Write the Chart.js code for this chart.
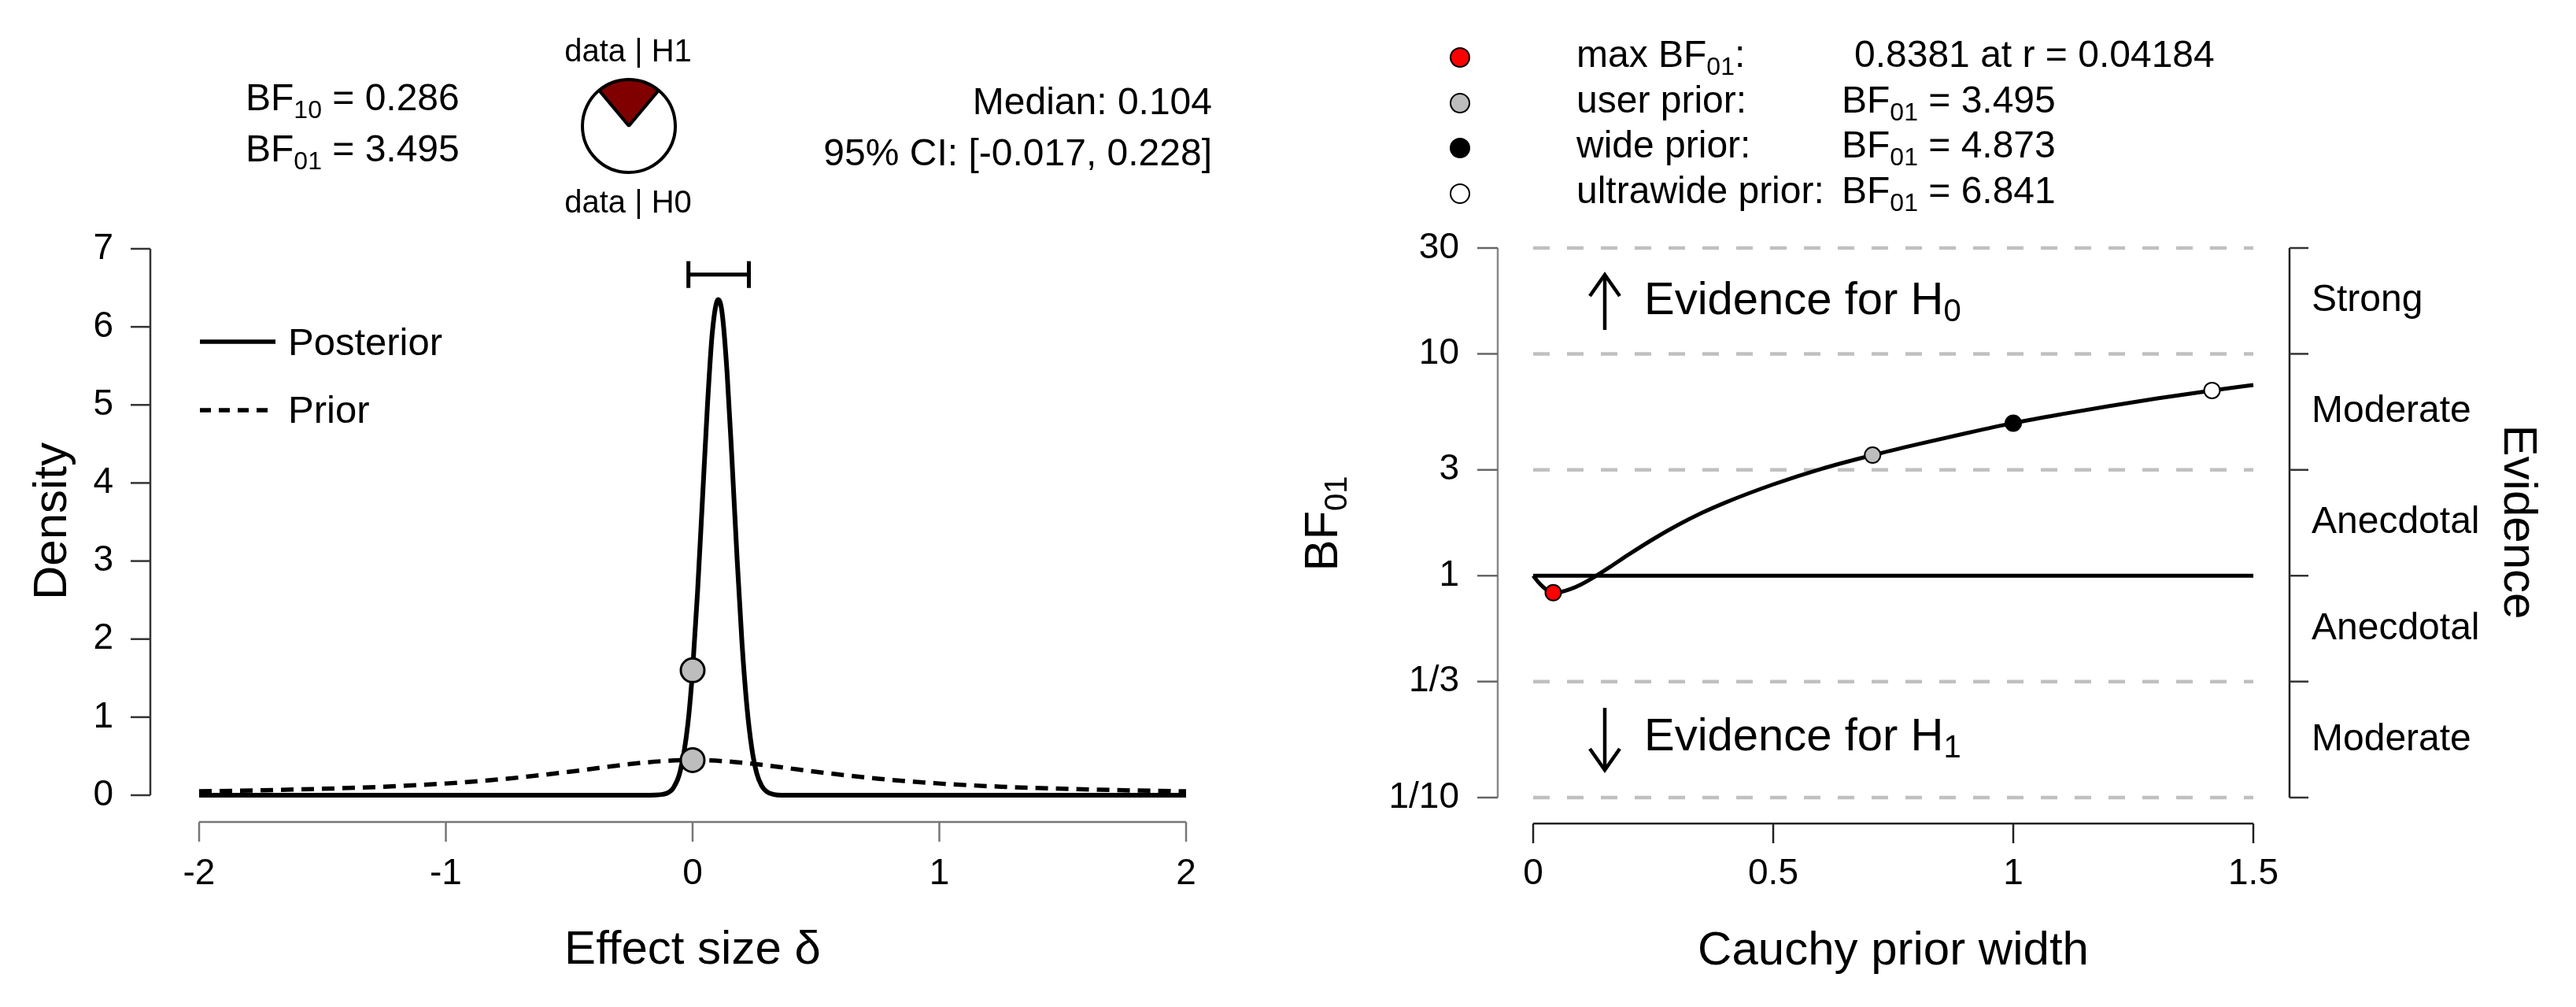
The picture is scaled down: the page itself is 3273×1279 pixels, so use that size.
<!DOCTYPE html>
<html>
<head>
<meta charset="utf-8">
<script src="https://cdn.jsdelivr.net/npm/chart.js@4.4.1/dist/chart.umd.min.js"></script>
<style>
html, body { margin: 0; padding: 0; background: #ffffff; }
body { width: 3273px; height: 1279px; position: relative; overflow: hidden; }
canvas { position: absolute; left: 0; top: 0; width: 3273px; height: 1279px; }
</style>
</head>
<body>
<canvas id="leftPlot" width="3273" height="1279"></canvas>
<canvas id="rightPlot" width="3273" height="1279"></canvas>
<canvas id="piePlot" width="3273" height="1279"></canvas>
<script>
// ===================== DATA =====================
// Left panel: prior and posterior density of effect size delta
const xTicksLeft = [-2, -1, 0, 1, 2];
const xTickLabelsLeft = ['-2', '-1', '0', '1', '2'];
const yTicksLeft = [0, 1, 2, 3, 4, 5, 6, 7];
const yTickLabelsLeft = ['0', '1', '2', '3', '4', '5', '6', '7'];

const posteriorDelta   = [-2, -1.5, -1, -0.5, -0.3, -0.2, -0.15, -0.12, -0.1, -0.08, -0.05, -0.02, 0, 0.02, 0.04, 0.06, 0.08, 0.104, 0.12, 0.14, 0.16, 0.18, 0.2, 0.22, 0.24, 0.26, 0.28, 0.3, 0.33, 0.36, 0.5, 1, 1.5, 2];
const posteriorDensity = [0, 0, 0, 0, 0, 0, 0.002, 0.011, 0.031, 0.085, 0.31, 0.89, 1.60, 2.60, 3.79, 4.98, 5.93, 6.35, 6.17, 5.40, 4.27, 3.05, 1.96, 1.14, 0.60, 0.28, 0.12, 0.047, 0.009, 0, 0, 0, 0, 0];

const priorDelta   = [-2, -1.75, -1.5, -1.25, -1, -0.75, -0.5, -0.375, -0.25, -0.125, 0, 0.125, 0.25, 0.375, 0.5, 0.75, 1, 1.25, 1.5, 1.75, 2];
const priorDensity = [0.050, 0.063, 0.082, 0.109, 0.150, 0.212, 0.300, 0.351, 0.400, 0.436, 0.450, 0.436, 0.400, 0.351, 0.300, 0.212, 0.150, 0.109, 0.082, 0.063, 0.050];

const zeroPointDelta   = [0, 0];
const zeroPointDensity = [1.60, 0.45];   // posterior at 0, prior at 0

const ciBounds = [-0.017, 0.228];
const ciLevel  = [6.67];

const pieLabels = ['data | H1', 'data | H0'];
const pieShares = [0.222, 0.778];

const bfHeader = ['0.286', '3.495'];          // BF10, BF01
const posteriorSummary = ['0.104', '[-0.017, 0.228]'];

// Right panel: Bayes factor robustness check
const priorWidth = [0, 0.01, 0.02, 0.03, 0.04184, 0.06, 0.08, 0.1, 0.13, 0.16, 0.2, 0.25, 0.3, 0.35, 0.4, 0.5, 0.6, 0.707, 0.8, 0.9, 1.0, 1.1, 1.2, 1.3, 1.414, 1.5];
const bf01Curve  = [1, 0.94, 0.893, 0.857, 0.8381, 0.847, 0.874, 0.914, 0.995, 1.095, 1.25, 1.462, 1.686, 1.913, 2.136, 2.58, 3.03, 3.495, 3.91, 4.38, 4.873, 5.343, 5.818, 6.30, 6.841, 7.244];

const xTicksRight = [0, 0.5, 1, 1.5];
const xTickLabelsRight = ['0', '0.5', '1', '1.5'];
const yTicksRight = [0.1, 1 / 3, 1, 3, 10, 30];
const yTickLabelsRight = ['1/10', '1/3', '1', '3', '10', '30'];
const referenceLines = [30, 10, 3, 1 / 3, 0.1];
const evidenceMid = [0.1826, 0.5774, 1.732, 5.477, 17.32];
const evidenceLabels = ['Moderate', 'Anecdotal', 'Anecdotal', 'Moderate', 'Strong'];

const markerNames  = ['max', 'user prior:', 'wide prior:', 'ultrawide prior:'];
const markerWidth  = [0.04184, 0.707, 1, 1.414];
const markerBF     = [0.8381, 3.495, 4.873, 6.841];
const markerValues = ['0.8381 at r = 0.04184', '3.495', '4.873', '6.841'];
const markerColors = ['#ff0000', '#bdbdbd', '#000000', '#ffffff'];

// ===================== HELPERS =====================
const FONT = "'Liberation Sans', Arial, Helvetica, sans-serif";
Chart.defaults.font.family = FONT;
Chart.defaults.color = '#000';

function seg(ctx, x1, y1, x2, y2, color, w, dash) {
  ctx.save();
  ctx.beginPath();
  ctx.strokeStyle = color; ctx.lineWidth = w; ctx.lineCap = 'butt';
  ctx.setLineDash(dash || []);
  ctx.moveTo(x1, y1); ctx.lineTo(x2, y2); ctx.stroke();
  ctx.restore();
}
function richWidth(ctx, parts) {
  let w = 0;
  parts.forEach(p => { ctx.font = p.size + 'px ' + FONT; w += ctx.measureText(p.t).width; });
  return w;
}
function rich(ctx, parts, x, y, align) {
  const w = richWidth(ctx, parts);
  let cx = align === 'right' ? x - w : (align === 'center' ? x - w / 2 : x);
  ctx.textAlign = 'left'; ctx.textBaseline = 'alphabetic'; ctx.fillStyle = '#000';
  parts.forEach(p => {
    ctx.font = p.size + 'px ' + FONT;
    ctx.fillText(p.t, cx, y + (p.dy || 0));
    cx += ctx.measureText(p.t).width;
  });
}
function text(ctx, s, x, y, size, align) {
  ctx.font = size + 'px ' + FONT; ctx.fillStyle = '#000';
  ctx.textAlign = align || 'left'; ctx.textBaseline = 'alphabetic';
  ctx.fillText(s, x, y);
}
function pts(xs, ys) { return xs.map((x, i) => ({ x: x, y: ys[i] })); }

// ===================== LEFT PANEL =====================
const leftDecor = {
  id: 'leftDecor',
  afterDraw(chart) {
    const ctx = chart.ctx, xs = chart.scales.x, ys = chart.scales.y;
    ctx.save();
    // y axis (offset, R style)
    const yAxisX = 191;
    seg(ctx, yAxisX, ys.getPixelForValue(yTicksLeft[yTicksLeft.length - 1]), yAxisX, ys.getPixelForValue(yTicksLeft[0]), '#333', 2.5);
    yTicksLeft.forEach(v => { const p = ys.getPixelForValue(v); seg(ctx, yAxisX - 25, p, yAxisX, p, '#333', 2.5); });
    // x axis
    const xAxisY = 1044;
    seg(ctx, xs.getPixelForValue(xTicksLeft[0]), xAxisY, xs.getPixelForValue(xTicksLeft[xTicksLeft.length - 1]), xAxisY, '#777', 2.5);
    xTicksLeft.forEach(v => { const p = xs.getPixelForValue(v); seg(ctx, p, xAxisY, p, xAxisY + 25, '#777', 2.5); });
    // axis titles
    text(ctx, 'Effect size δ', (chart.chartArea.left + chart.chartArea.right) / 2, 1224, 60, 'center');
    ctx.save(); ctx.translate(84, 662); ctx.rotate(-Math.PI / 2); text(ctx, 'Density', 0, 0, 60, 'center'); ctx.restore();
    // legend
    seg(ctx, 254, 434, 350, 434, '#000', 5.5);
    seg(ctx, 254, 521, 342, 521, '#000', 5.5, [14, 10]);
    text(ctx, 'Posterior', 366, 451, 49);
    text(ctx, 'Prior', 366, 537, 49);
    // header: Bayes factors
    rich(ctx, [{ t: 'BF', size: 48 }, { t: '10', size: 32, dy: 10 }, { t: ' = ' + bfHeader[0], size: 48 }], 312, 140, 'left');
    rich(ctx, [{ t: 'BF', size: 48 }, { t: '01', size: 32, dy: 10 }, { t: ' = ' + bfHeader[1], size: 48 }], 312, 205, 'left');
    // pie labels
    text(ctx, pieLabels[0], 798, 78, 40, 'center');
    text(ctx, pieLabels[1], 798, 270, 40, 'center');
    // posterior summary
    text(ctx, 'Median: ' + posteriorSummary[0], 1540, 145, 48, 'right');
    text(ctx, '95% CI: ' + posteriorSummary[1], 1540, 210, 48, 'right');
    ctx.restore();
  }
};

new Chart(document.getElementById('leftPlot'), {
  type: 'scatter',
  data: {
    datasets: [
      { label: 'points', data: pts(zeroPointDelta, zeroPointDensity), showLine: false, pointRadius: 15,
        pointBackgroundColor: '#bdbdbd', pointBorderColor: '#000', pointBorderWidth: 3, order: 0, clip: false },
      { label: 'CI', data: pts(ciBounds, [ciLevel[0], ciLevel[0]]), showLine: true, borderColor: '#000', borderWidth: 5,
        pointStyle: 'line', pointRotation: 90, pointRadius: 17, pointBorderWidth: 5, pointBorderColor: '#000', order: 1, clip: false },
      { label: 'Posterior', data: pts(posteriorDelta, posteriorDensity), showLine: true, borderColor: '#000', borderWidth: 6,
        pointRadius: 0, cubicInterpolationMode: 'monotone', order: 2, clip: false },
      { label: 'Prior', data: pts(priorDelta, priorDensity), showLine: true, borderColor: '#000', borderWidth: 5.5,
        borderDash: [16, 10], pointRadius: 0, cubicInterpolationMode: 'monotone', order: 3, clip: false }
    ]
  },
  options: {
    responsive: false, animation: false, devicePixelRatio: 1, events: [],
    layout: { padding: { left: 0, top: 316, right: 3273 - 1507, bottom: 0 } },
    plugins: { legend: { display: false }, tooltip: { enabled: false } },
    scales: {
      x: {
        type: 'linear', min: -2, max: 2,
        afterBuildTicks: s => { s.ticks = xTicksLeft.map(v => ({ value: v })); },
        afterFit: s => { s.height = 1279 - 1010; },
        ticks: { callback: (v, i) => xTickLabelsLeft[i], font: { size: 46 }, color: '#000', padding: 73, autoSkip: false, maxRotation: 0 },
        grid: { display: false, drawTicks: false }, border: { display: false }
      },
      y: {
        type: 'linear', min: 0, max: 7,
        afterBuildTicks: s => { s.ticks = yTicksLeft.map(v => ({ value: v })); },
        afterFit: s => { s.width = 253; },
        ticks: { callback: (v, i) => yTickLabelsLeft[i], font: { size: 46 }, color: '#000', padding: 109, autoSkip: false },
        grid: { display: false, drawTicks: false }, border: { display: false }
      }
    }
  },
  plugins: [leftDecor]
});

// ===================== PIE =====================
new Chart(document.getElementById('piePlot'), {
  type: 'pie',
  data: { labels: pieLabels, datasets: [{ data: pieShares, backgroundColor: ['#800000', '#ffffff'], borderColor: '#000', borderWidth: 4 }] },
  options: {
    responsive: false, animation: false, devicePixelRatio: 1, events: [],
    rotation: -pieShares[0] * 180,
    layout: { padding: { left: 738, top: 99, right: 3273 - 860, bottom: 1279 - 221 } },
    plugins: { legend: { display: false }, tooltip: { enabled: false } }
  }
});

// ===================== RIGHT PANEL =====================
const rightDecor = {
  id: 'rightDecor',
  afterDraw(chart) {
    const ctx = chart.ctx, xs = chart.scales.x, ys = chart.scales.y;
    ctx.save();
    const yTop = ys.getPixelForValue(yTicksRight[yTicksRight.length - 1]);
    const yBot = ys.getPixelForValue(yTicksRight[0]);
    // left y axis
    const yAxisX = 1903;
    seg(ctx, yAxisX, yTop, yAxisX, yBot, '#888', 2.5);
    yTicksRight.forEach(v => { const p = ys.getPixelForValue(v); seg(ctx, yAxisX - 26, p, yAxisX, p, '#666', 2.5); });
    // right evidence axis
    const eAxisX = 2909;
    seg(ctx, eAxisX, yTop, eAxisX, yBot, '#222', 2.5);
    yTicksRight.forEach(v => { const p = ys.getPixelForValue(v); seg(ctx, eAxisX, p, eAxisX + 24, p, '#333', 2.5); });
    // x axis
    const xAxisY = 1046;
    seg(ctx, xs.getPixelForValue(xTicksRight[0]), xAxisY, xs.getPixelForValue(xTicksRight[xTicksRight.length - 1]), xAxisY, '#222', 2.5);
    xTicksRight.forEach(v => { const p = xs.getPixelForValue(v); seg(ctx, p, xAxisY, p, xAxisY + 25, '#222', 2.5); });
    // titles
    text(ctx, 'Cauchy prior width', (chart.chartArea.left + chart.chartArea.right) / 2, 1225, 60, 'center');
    ctx.save(); ctx.translate(1699, 665); ctx.rotate(-Math.PI / 2);
    rich(ctx, [{ t: 'BF', size: 60 }, { t: '01', size: 40, dy: 12 }], 0, 0, 'center'); ctx.restore();
    ctx.save(); ctx.translate(3182, 663); ctx.rotate(Math.PI / 2); text(ctx, 'Evidence', 0, 0, 60, 'center'); ctx.restore();
    // arrows
    ctx.save();
    ctx.strokeStyle = '#000'; ctx.lineWidth = 4.5; ctx.lineCap = 'butt'; ctx.lineJoin = 'miter';
    ctx.beginPath(); ctx.moveTo(2039, 419); ctx.lineTo(2039, 349); ctx.stroke();
    ctx.beginPath(); ctx.moveTo(2020, 376); ctx.lineTo(2039, 349); ctx.lineTo(2058, 376); ctx.stroke();
    ctx.beginPath(); ctx.moveTo(2039, 899); ctx.lineTo(2039, 978); ctx.stroke();
    ctx.beginPath(); ctx.moveTo(2020, 951); ctx.lineTo(2039, 978); ctx.lineTo(2058, 951); ctx.stroke();
    ctx.restore();
    rich(ctx, [{ t: 'Evidence for H', size: 58 }, { t: '0', size: 40, dy: 9 }], 2089, 399, 'left');
    rich(ctx, [{ t: 'Evidence for H', size: 58 }, { t: '1', size: 40, dy: 9 }], 2089, 953, 'left');
    // top legend
    const rowY = [73, 131, 188, 246];
    markerNames.forEach((name, i) => {
      ctx.beginPath(); ctx.arc(1855, rowY[i], 12, 0, Math.PI * 2);
      ctx.fillStyle = markerColors[i]; ctx.fill();
      ctx.lineWidth = 2; ctx.strokeStyle = '#000'; ctx.stroke();
      const base = rowY[i] + 12;
      if (i === 0) {
        rich(ctx, [{ t: 'max BF', size: 48 }, { t: '01', size: 32, dy: 10 }, { t: ':', size: 48 }], 2003, base, 'left');
        text(ctx, markerValues[i], 2356, base, 48, 'left');
      } else {
        text(ctx, name, 2003, base, 48, 'left');
        rich(ctx, [{ t: 'BF', size: 48 }, { t: '01', size: 32, dy: 10 }, { t: ' = ' + markerValues[i], size: 48 }], 2340, base, 'left');
      }
    });
    ctx.restore();
  }
};

const rightDatasets = [];
markerWidth.forEach((r, i) => {
  rightDatasets.push({ label: markerNames[i], data: [{ x: r, y: markerBF[i] }], showLine: false, pointRadius: 10,
    pointBackgroundColor: markerColors[i], pointBorderColor: '#000', pointBorderWidth: 2, order: 0, clip: false });
});
rightDatasets.push({ label: 'BF01', data: pts(priorWidth, bf01Curve), showLine: true, borderColor: '#000', borderWidth: 5,
  pointRadius: 0, cubicInterpolationMode: 'monotone', order: 1, clip: false });
rightDatasets.push({ label: 'BF = 1', data: pts([xTicksRight[0], xTicksRight[xTicksRight.length - 1]], [1, 1]), showLine: true,
  borderColor: '#000', borderWidth: 5, pointRadius: 0, order: 2, clip: false });
referenceLines.forEach(v => {
  rightDatasets.push({ label: 'ref', data: pts([xTicksRight[0], xTicksRight[xTicksRight.length - 1]], [v, v]), showLine: true,
    borderColor: '#c0c0c0', borderWidth: 4.5, borderDash: [21, 22], pointRadius: 0, order: 3, clip: false });
});

new Chart(document.getElementById('rightPlot'), {
  type: 'scatter',
  data: { datasets: rightDatasets },
  options: {
    responsive: false, animation: false, devicePixelRatio: 1, events: [],
    layout: { padding: { left: 0, top: 315, right: 0, bottom: 0 } },
    plugins: { legend: { display: false }, tooltip: { enabled: false } },
    scales: {
      x: {
        type: 'linear', min: 0, max: 1.5,
        afterBuildTicks: s => { s.ticks = xTicksRight.map(v => ({ value: v })); },
        afterFit: s => { s.height = 1279 - 1013; },
        ticks: { callback: (v, i) => xTickLabelsRight[i], font: { size: 46 }, color: '#000', padding: 70, autoSkip: false, maxRotation: 0 },
        grid: { display: false, drawTicks: false }, border: { display: false }
      },
      y: {
        type: 'logarithmic', position: 'left', min: 0.1, max: 30,
        afterBuildTicks: s => { s.ticks = yTicksRight.map(v => ({ value: v })); },
        afterFit: s => { s.width = 1948; },
        ticks: { callback: (v, i) => yTickLabelsRight[i], font: { size: 46 }, color: '#000', padding: 94, autoSkip: false },
        grid: { display: false, drawTicks: false }, border: { display: false }
      },
      y2: {
        type: 'logarithmic', position: 'right', min: 0.1, max: 30,
        afterBuildTicks: s => { s.ticks = evidenceMid.map(v => ({ value: v })); },
        afterFit: s => { s.width = 3273 - 2863; },
        ticks: { callback: (v, i) => evidenceLabels[i], font: { size: 48 }, color: '#000', padding: 74, autoSkip: false },
        grid: { display: false, drawTicks: false }, border: { display: false }
      }
    }
  },
  plugins: [rightDecor]
});
</script>
</body>
</html>
